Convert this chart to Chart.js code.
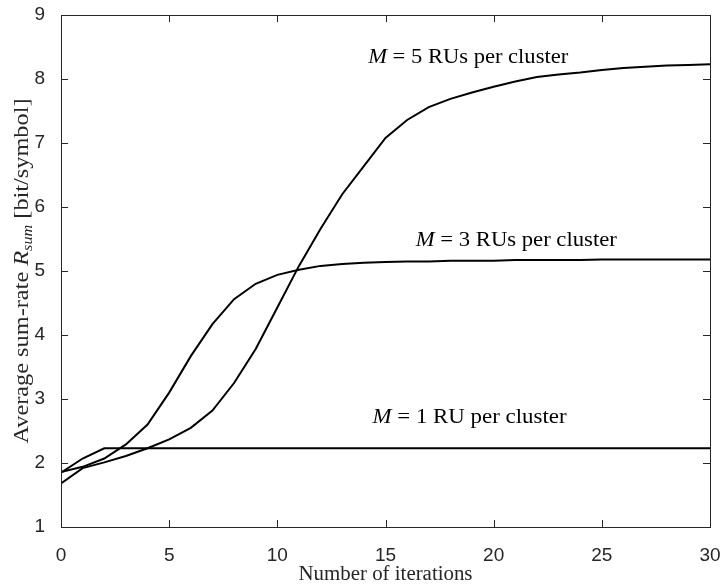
<!DOCTYPE html>
<html>
<head>
<meta charset="utf-8">
<script src="https://cdn.jsdelivr.net/npm/chart.js@4/dist/chart.umd.min.js"></script>
<style>
  html, body { margin: 0; padding: 0; background: #fff; }
  #wrap { width: 721px; height: 584px; position: relative; }
</style>
</head>
<body>
<div id="wrap"><canvas id="rate-chart"></canvas></div>
<script>
// iteration index on the x axis
const iterations = [0, 1, 2, 3, 4, 5, 6, 7, 8, 9, 10, 11, 12, 13, 14, 15,
    16, 17, 18, 19, 20, 21, 22, 23, 24, 25, 26, 27, 28, 29, 30];

// average sum-rate [bit/symbol]
const rateM1 = [1.85, 2.07, 2.23, 2.23, 2.23, 2.23, 2.23, 2.23, 2.23, 2.23, 2.23,
    2.23, 2.23, 2.23, 2.23, 2.23, 2.23, 2.23, 2.23, 2.23, 2.23, 2.23, 2.23, 2.23,
    2.23, 2.23, 2.23, 2.23, 2.23, 2.23, 2.23];
const rateM3 = [1.86, 1.94, 2.07, 2.29, 2.60, 3.10, 3.67, 4.17, 4.56, 4.80, 4.94,
    5.02, 5.08, 5.11, 5.13, 5.14, 5.15, 5.15, 5.16, 5.16, 5.16, 5.17, 5.17, 5.17,
    5.17, 5.18, 5.18, 5.18, 5.18, 5.18, 5.18];
const rateM5 = [1.68, 1.92, 2.01, 2.11, 2.23, 2.37, 2.55, 2.82, 3.25, 3.78, 4.43,
    5.08, 5.66, 6.20, 6.64, 7.08, 7.36, 7.56, 7.69, 7.79, 7.88, 7.96, 8.03, 8.07,
    8.10, 8.14, 8.17, 8.19, 8.21, 8.22, 8.23];

// curve annotations (text + where they sit in data units)
const labelVars = ['M', 'M', 'M'];
const labelTexts = [' = 5 RUs per cluster', ' = 3 RUs per cluster', ' = 1 RU per cluster'];
const labelIters = [14.2, 16.4, 14.4];
const labelRates = [8.33, 5.48, 2.70];

const xTitle = 'Number of iterations';
const yTitleParts = ['Average sum-rate ', 'R', 'sum', ' [bit/symbol]'];

const axisColor = '#262626';
const serif = '"Liberation Serif", "DejaVu Serif", serif';

function toPoints(ys) {
    return iterations.map((x, i) => ({ x: x, y: ys[i] }));
}

// draw mixed-font text starting at (0,0) in the current frame,
// stretched horizontally so it is `target` px wide (LaTeX fonts run wide)
function drawParts(ctx, parts, target) {
    let total = 0;
    const widths = parts.map(p => {
        ctx.font = p.font;
        const w = ctx.measureText(p.text).width;
        total += w;
        return w;
    });
    ctx.scale(target / total, 1);
    let cx = 0;
    parts.forEach((p, i) => {
        ctx.font = p.font;
        ctx.fillText(p.text, cx, p.dy || 0);
        cx += widths[i];
    });
}

// box, inward ticks, axis titles and curve labels (MATLAB look)
const matlabAxes = {
    id: 'matlabAxes',
    afterDraw(chart) {
        const ctx = chart.ctx;
        const a = chart.chartArea;
        const xs = chart.scales.x;
        const ys = chart.scales.y;
        const tl = 7;

        ctx.save();
        ctx.strokeStyle = axisColor;
        ctx.lineWidth = 1;
        ctx.strokeRect(Math.round(a.left) + 0.5, Math.round(a.top) + 0.5,
            Math.round(a.right - a.left), Math.round(a.bottom - a.top));

        ctx.beginPath();
        xs.ticks.forEach(t => {
            const px = Math.round(xs.getPixelForValue(t.value)) + 0.5;
            ctx.moveTo(px, a.bottom); ctx.lineTo(px, a.bottom - tl);
            ctx.moveTo(px, a.top); ctx.lineTo(px, a.top + tl);
        });
        ys.ticks.forEach(t => {
            const py = Math.round(ys.getPixelForValue(t.value)) + 0.5;
            ctx.moveTo(a.left, py); ctx.lineTo(a.left + tl, py);
            ctx.moveTo(a.right, py); ctx.lineTo(a.right - tl, py);
        });
        ctx.stroke();

        ctx.fillStyle = axisColor;
        ctx.textAlign = 'left';
        ctx.textBaseline = 'alphabetic';

        // x title
        const xw = 174;
        ctx.save();
        ctx.translate((a.left + a.right) / 2 - xw / 2, 580);
        drawParts(ctx, [{ text: xTitle, font: '20px ' + serif }], xw);
        ctx.restore();

        // y title, rotated, with italic R and subscript
        const yw = 345;
        ctx.save();
        ctx.translate(28, (a.top + a.bottom) / 2 + yw / 2);
        ctx.rotate(-Math.PI / 2);
        drawParts(ctx, [
            { text: yTitleParts[0], font: '21px ' + serif },
            { text: yTitleParts[1], font: 'italic 21px ' + serif },
            { text: yTitleParts[2], font: 'italic 14px ' + serif, dy: 4 },
            { text: yTitleParts[3], font: '21px ' + serif }
        ], yw);
        ctx.restore();

        // curve labels
        const lw = [200, 201, 194];
        ctx.fillStyle = '#000';
        ctx.textBaseline = 'middle';
        labelTexts.forEach((s, i) => {
            ctx.save();
            ctx.translate(xs.getPixelForValue(labelIters[i]), ys.getPixelForValue(labelRates[i]));
            drawParts(ctx, [
                { text: labelVars[i], font: 'italic 20px ' + serif },
                { text: s, font: '20px ' + serif }
            ], lw[i]);
            ctx.restore();
        });
        ctx.restore();
    }
};

const lineStyle = {
    borderColor: '#000',
    borderWidth: 2,
    pointRadius: 0,
    tension: 0,
    fill: false
};

const tickFont = { family: '"Liberation Sans", Arial, sans-serif', size: 19 };

new Chart(document.getElementById('rate-chart'), {
    type: 'line',
    data: {
        datasets: [
            Object.assign({ label: 'M = 1', data: toPoints(rateM1) }, lineStyle),
            Object.assign({ label: 'M = 3', data: toPoints(rateM3) }, lineStyle),
            Object.assign({ label: 'M = 5', data: toPoints(rateM5) }, lineStyle)
        ]
    },
    options: {
        responsive: true,
        maintainAspectRatio: false,
        animation: false,
        layout: { padding: { top: 15, right: 11, left: 0, bottom: 0 } },
        plugins: {
            legend: { display: false },
            tooltip: { enabled: false }
        },
        scales: {
            x: {
                type: 'linear',
                min: 0,
                max: 30,
                grid: { display: false },
                border: { display: false },
                ticks: { stepSize: 5, padding: 9, color: axisColor, font: tickFont },
                afterFit: scale => {
                    scale.height = 57;
                    scale.paddingLeft = 0;
                    scale.paddingRight = 0;
                }
            },
            y: {
                min: 1,
                max: 9,
                grid: { display: false },
                border: { display: false },
                ticks: { stepSize: 1, padding: 8, color: axisColor, font: tickFont },
                afterFit: scale => {
                    scale.width = 61;
                    scale.paddingTop = 0;
                    scale.paddingBottom = 0;
                }
            }
        }
    },
    plugins: [matlabAxes]
});
</script>
</body>
</html>
